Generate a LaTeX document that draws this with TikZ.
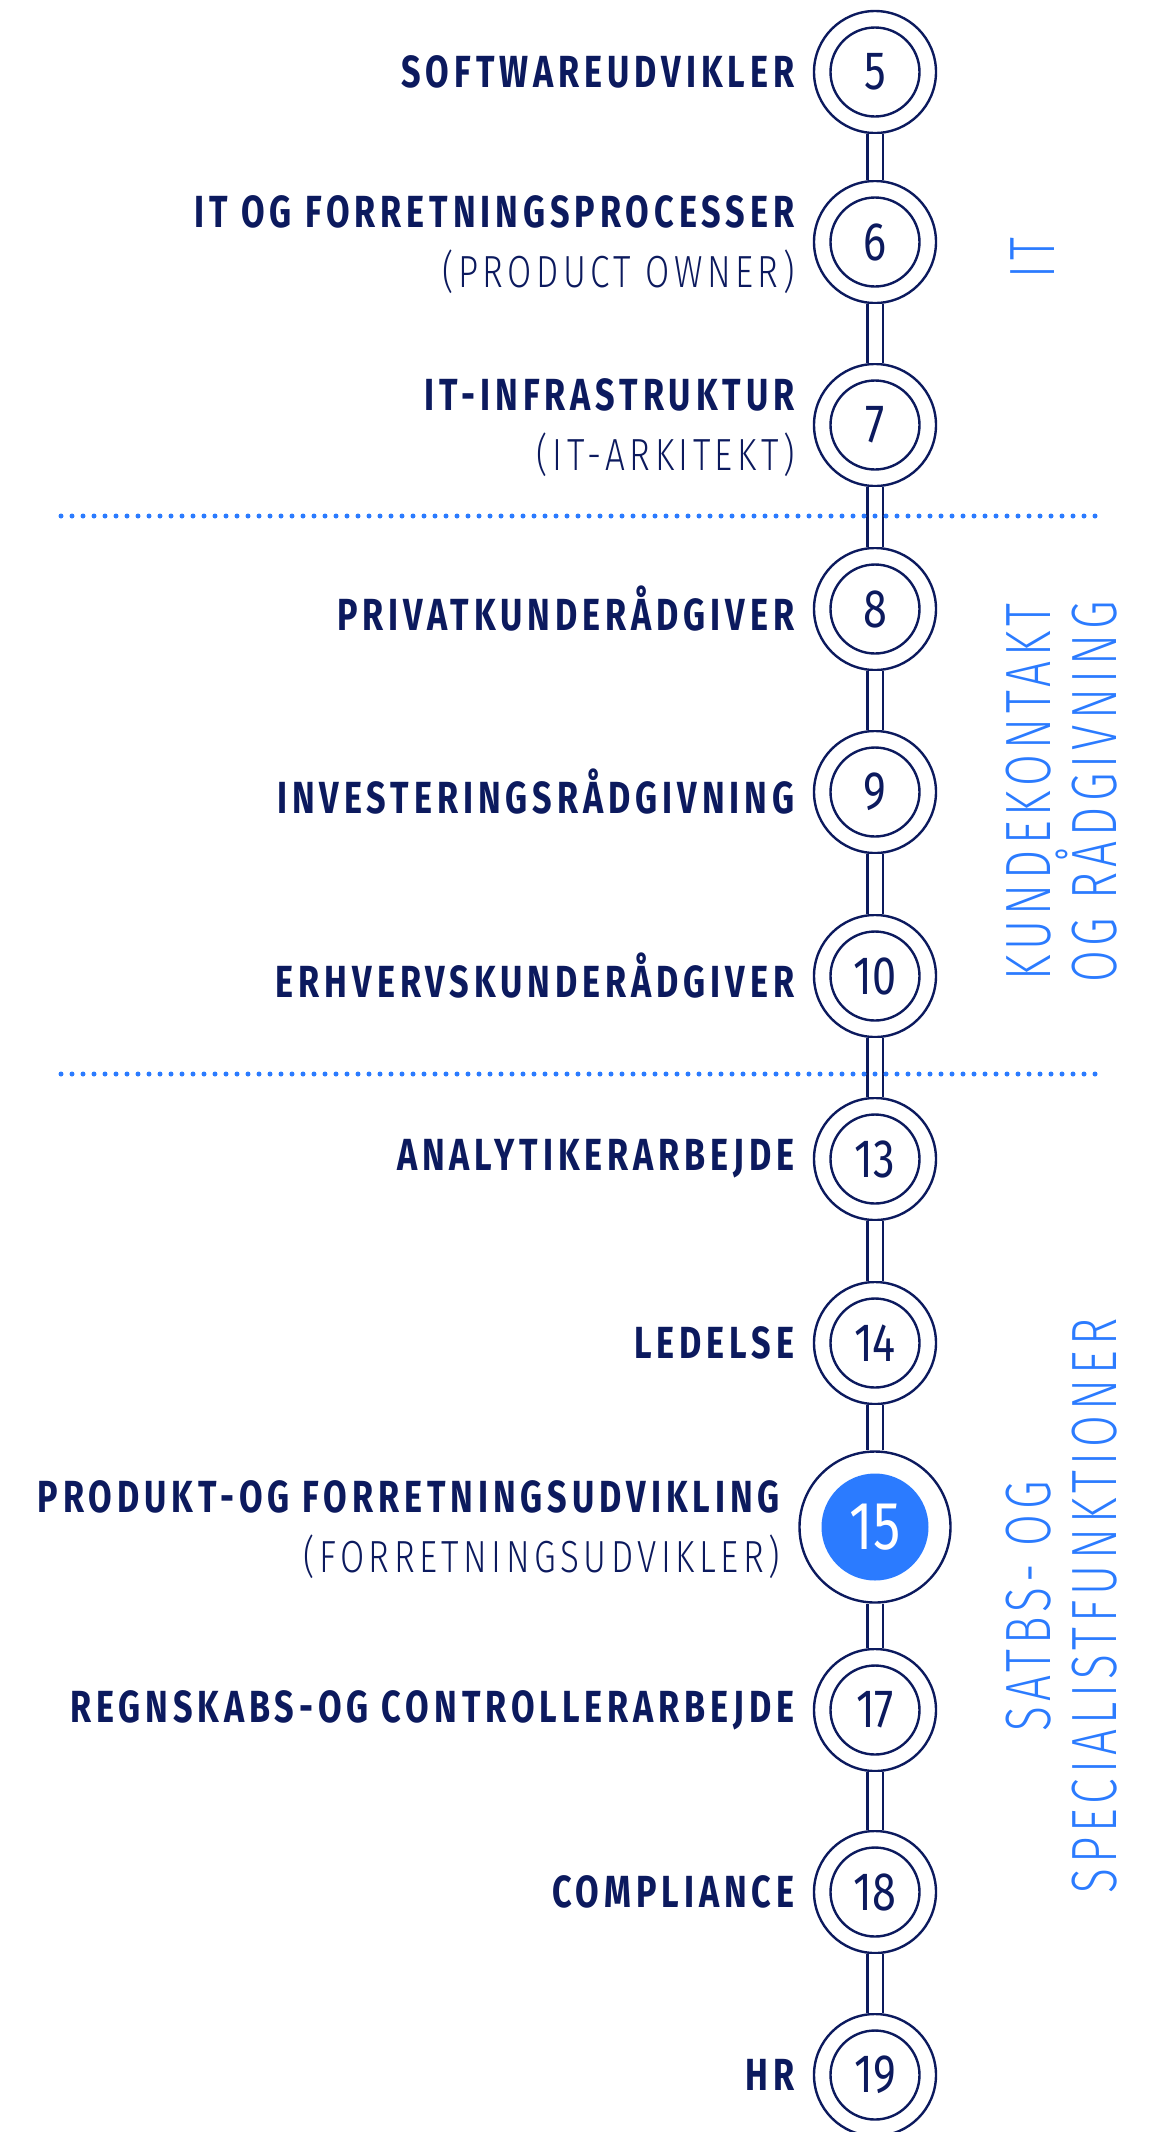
\documentclass[tikz,border=0pt]{standalone}
\usepackage{fontspec}
\usetikzlibrary{positioning}
\definecolor{navy}{HTML}{0C1A5E}
\definecolor{azure}{HTML}{2B7BFF}
\newfontfamily\headfont[FakeStretch=0.76,LetterSpace=11]{Fira Sans}
\newfontfamily\numfont[FakeStretch=0.8]{Fira Sans}
\IfFontExistsTF{Fira Sans Light}
  {\newfontfamily\subfont[FakeStretch=0.78,LetterSpace=10]{Fira Sans Light}
   \newfontfamily\areafont[FakeStretch=0.72,LetterSpace=8]{Fira Sans Light}}
  {\newfontfamily\subfont[FakeStretch=0.78,LetterSpace=10]{Fira Sans}
   \newfontfamily\areafont[FakeStretch=0.72,LetterSpace=8]{Fira Sans}}
\begin{document}
\begin{tikzpicture}[
    x=0.5pt, y=-0.5pt,
    ring/.style={circle, draw=navy, line width=1.2pt, fill=white, minimum size=61pt, inner sep=0pt},
    core/.style={circle, draw=navy, line width=1.2pt, minimum size=44.5pt, inner sep=0pt, text=navy,
                 font=\numfont\fontsize{27}{27}\selectfont},
    link/.style={draw=navy, line width=1.2pt, double=white, double distance=6.5pt},
    role/.style={align=right, inner sep=0pt, text=navy, font=\fontsize{22.5}{30}\selectfont},
    area/.style={rotate=90, align=center, inner sep=0pt, text=azure, font=\areafont\fontsize{32}{33}\selectfont},
    divider/.style={azure, line width=2.5pt, line cap=round, dash pattern=on 0pt off 5.5pt}
]
\useasboundingbox (0,0) rectangle (1162,2132);

% steps on the ladder
\foreach \n/\y in {5/72, 6/242, 7/425, 8/609, 9/792, 10/976, 13/1159, 14/1343, 17/1710, 18/1892, 19/2075} {
    \node[ring] (c\n) at (875,\y) {};
    \node[core] (n\n) at (c\n) {\n};
}
\node[ring, minimum size=75.5pt] (c15) at (875,1527) {};
\node[core, draw=none, fill=azure, text=white, minimum size=53.5pt,
      font=\numfont\fontsize{34}{34}\selectfont] (n15) at (c15) {15};

\foreach \a/\b in {5/6, 6/7, 7/8, 8/9, 9/10, 10/13, 13/14, 14/15, 15/17, 17/18, 18/19}
    \draw[link] (c\a) -- (c\b);

% job titles
\node[role, left=9pt of c5] (l5) {\headfont\bfseries SOFTWAREUDVIKLER};
\node[role, left=9pt of c6, yshift=-1.5pt] (l6) {\headfont\bfseries IT OG FORRETNINGSPROCESSER\\{\subfont\mdseries (PRODUCT OWNER)}};
\node[role, left=9pt of c7, yshift=-1.5pt] (l7) {\headfont\bfseries IT-INFRASTRUKTUR\\{\subfont\mdseries (IT-ARKITEKT)}};
\node[role, left=9pt of c8] (l8) {\headfont\bfseries PRIVATKUNDERÅDGIVER};
\node[role, left=9pt of c9] (l9) {\headfont\bfseries INVESTERINGSRÅDGIVNING};
\node[role, left=9pt of c10] (l10) {\headfont\bfseries ERHVERVSKUNDERÅDGIVER};
\node[role, left=9pt of c13] (l13) {\headfont\bfseries ANALYTIKERARBEJDE};
\node[role, left=9pt of c14] (l14) {\headfont\bfseries LEDELSE};
\node[role, left=9pt of c15, yshift=-1.5pt] (l15) {\headfont\bfseries PRODUKT-OG FORRETNINGSUDVIKLING\\{\subfont\mdseries (FORRETNINGSUDVIKLER)}};
\node[role, left=9pt of c17] (l17) {\headfont\bfseries REGNSKABS-OG CONTROLLERARBEJDE};
\node[role, left=9pt of c18] (l18) {\headfont\bfseries COMPLIANCE};
\node[role, left=9pt of c19] (l19) {\headfont\bfseries HR};

% areas
\node[area] (itarea) at (1033,258) {IT};
\node[area] (kundearea) at (1062,792) {KUNDEKONTAKT\\OG RÅDGIVNING};
\node[area] (satbsarea) at (1062,1606) {SATBS- OG\\SPECIALISTFUNKTIONER};

\coordinate (d1a) at (61,516);
\coordinate (d1b) at (1105,516);
\coordinate (d2a) at (61,1074);
\coordinate (d2b) at (1105,1074);
\draw[divider] (d1a) -- (d1b);
\draw[divider] (d2a) -- (d2b);
\end{tikzpicture}
\end{document}
